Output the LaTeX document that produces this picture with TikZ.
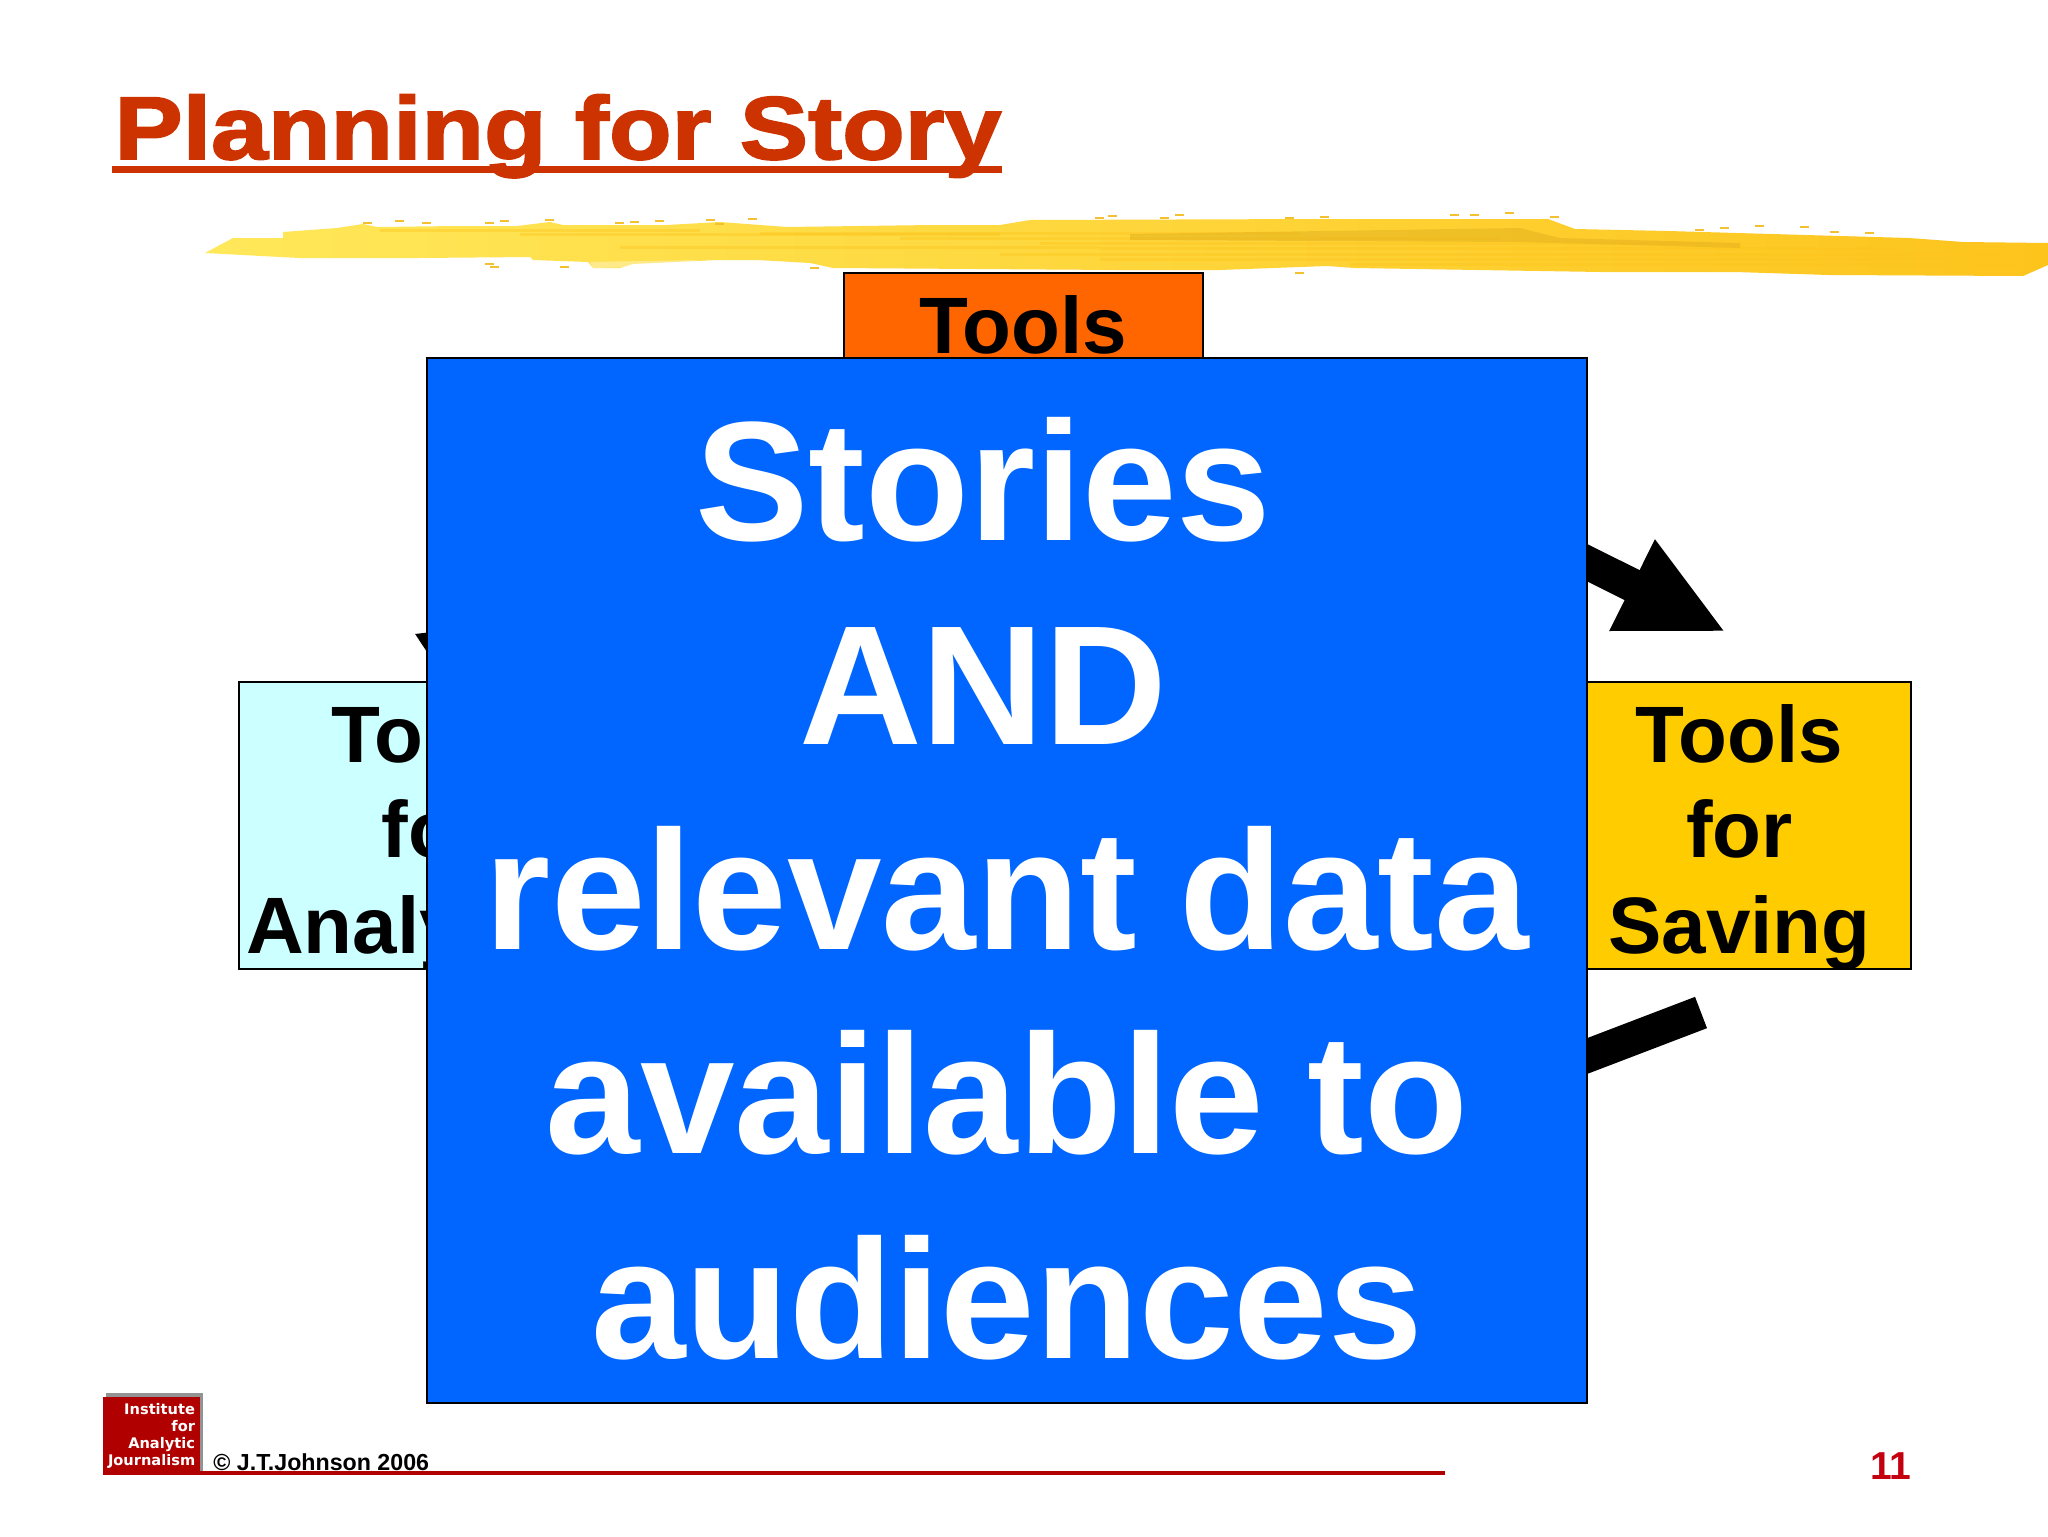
\documentclass[tikz,border=0pt]{standalone}
\usepackage{fontspec}
\setmainfont{Liberation Sans}
\newfontfamily\titlefont[FakeStretch=1.15,FakeBold=2.2]{Liberation Sans Bold}
\newfontfamily\logofont{DejaVu Sans}
\usetikzlibrary{arrows.meta}
\definecolor{titlered}{HTML}{CC3300}
\definecolor{findorange}{HTML}{FF6600}
\definecolor{storyblue}{HTML}{0066FF}
\definecolor{analyzecyan}{HTML}{CCFFFF}
\definecolor{saveyellow}{HTML}{FFCC00}
\definecolor{logored}{HTML}{B00000}
\definecolor{pagered}{HTML}{C40010}
\definecolor{brushpale}{HTML}{FFE85A}
\definecolor{brushmid}{HTML}{FFD838}
\definecolor{brushdeep}{HTML}{FDC41C}
\definecolor{brushdark}{HTML}{E2B01E}
\definecolor{brushspeck}{HTML}{F2C030}
\tikzset{
block/.style     = {draw, line width=1pt, rectangle, anchor=north west, inner sep=0pt, outer sep=0pt, text centered, text height=40pt, font=\fontsize{40}{47.75}\selectfont\bfseries},
bigarrow/.style  = {line width=16.75pt, -{Triangle[length=52.5pt,width=47pt]}},
}

\begin{document}
\begin{tikzpicture}[x=0.5pt, y=-0.5pt]
    \useasboundingbox (0,0) rectangle (2048,1536);
    \fill[white] (0,0) rectangle (2048,1536);

    \shade[left color=brushpale, middle color=brushmid, right color=brushdeep]
        (205,253) -- (233,238) -- (283,238) -- (283,232) -- (337,228) -- (363,224) -- (377,227) -- (457,226)
        -- (517,226) -- (550,222) -- (563,225) -- (667,225) -- (720,222) -- (787,227) -- (933,225) -- (1000,225)
        -- (1030,220) -- (1321,219) -- (1548,219) -- (1575,229) -- (1668,231) -- (1909,238) -- (1963,242)
        -- (2048,243) -- (2048,265) -- (2023,276) -- (1829,275) -- (1735,272) -- (1601,272) -- (1354,268)
        -- (1327,266) -- (1220,270) -- (1117,270) -- (833,268) -- (810,263) -- (757,260) -- (717,260) -- (633,264)
        -- (620,268) -- (593,268) -- (588,262) -- (533,260) -- (530,257) -- (420,258) -- (300,258) -- (280,257) -- cycle;
    \foreach \sxa/\sxb/\sy in {380/700/230, 520/1000/234, 760/1300/233, 900/1500/238, 1040/1700/243, 1100/1900/248, 620/1100/247, 1000/2000/254, 1100/1950/259, 1350/2020/264} {
        \draw[brushdeep, line width=1.5pt, opacity=.4] (\sxa,\sy) -- (\sxb,\sy);
    }
    \fill[white, opacity=.35] (590,262) -- (700,260) -- (640,267) -- (593,268) -- cycle;
    \fill[brushdark, opacity=.5] (1130,234) -- (1520,228) -- (1560,238) -- (1740,243) -- (1740,248) -- (1520,242) -- (1130,240) -- cycle;
    \foreach \bx/\by in {363/222, 395/220, 422/222, 485/222, 500/220, 545/219, 615/222, 630/221, 655/220, 706/219, 715/223, 748/218, 1095/217, 1108/215, 1160/217, 1175/214, 1285/217, 1320/216, 1450/214, 1470/214, 1505/212, 1550/216, 1695/229, 1720/227, 1755/225, 1800/226, 1830/231, 1865/232, 485/263, 490/266, 560/266, 810/267, 1295/272} {
        \fill[brushspeck] (\bx,\by) rectangle ++(9,2);
    }

    \coordinate (analyzeTail) at (440,679);
    \coordinate (findTip) at (531,619);
    \coordinate (saveTip) at (1726,632);
    \coordinate (saveTail) at (1701,1012.5);
    \coordinate (lowEnd) at (1200,1204);

    \node[block, fill=findorange, text width=179.5pt, text depth=58pt] (tools) at (844,273) {Tools};
    \node[block, fill=analyzecyan, text width=196pt, text depth=103.5pt] (analyze) at (239,682) {Tools\\for\\Analyzing};
    \node[block, fill=saveyellow, text width=171.5pt, text depth=103.5pt] (save) at (1568,682) {Tools\\for\\Saving};

    \draw[bigarrow] (analyzeTail) -- (findTip);
    \draw[bigarrow, shorten <=30pt] (tools.east) -- (saveTip);
    \draw[bigarrow] (saveTail) -- (lowEnd);

    \node[block, fill=storyblue, text=white, text width=580pt, text height=91pt, text depth=431.5pt, font=\fontsize{85}{102.25}\selectfont\bfseries] (stories) at (427,358)
        {Stories\kern.278em\\AND\kern.278em\\relevant\hspace{.25em}data\\available\hspace{.26em}to\\audiences};

    \node[anchor=base west, inner sep=0pt, text=titlered, font=\fontsize{44.5}{50}\titlefont] (title) at (114,159) {Planning for Story};
    \draw[titlered, line width=3.5pt] ([yshift=-5.25pt, xshift=-1pt]title.base west) -- ([yshift=-5.25pt]title.base east);

    \fill[gray!85] (106,1393) rectangle (203,1472);
    \node[anchor=north west, fill=logored, text=white, inner xsep=2.5pt, inner ysep=0pt, outer sep=0pt, text width=43.5pt, align=right, text height=8.5pt, text depth=30.5pt, font=\fontsize{7.3}{8.65}\logofont\bfseries] (logo) at (103,1397) {Institute\\for\\Analytic\\Journalism};
    \node[anchor=base west, inner sep=0pt, font=\fontsize{11.6}{14}\selectfont\bfseries] (copyright) at (213,1470) {© J.T.Johnson 2006};
    \coordinate (ruleEnd) at (1445,1473);
    \draw[logored, line width=2pt] (200,1473) -- (ruleEnd);
    \node[anchor=base east, inner sep=0pt, text=pagered, font=\fontsize{19.5}{24}\selectfont\bfseries] (pagenum) at (1912,1479.5) {11};
\end{tikzpicture}
\end{document}
